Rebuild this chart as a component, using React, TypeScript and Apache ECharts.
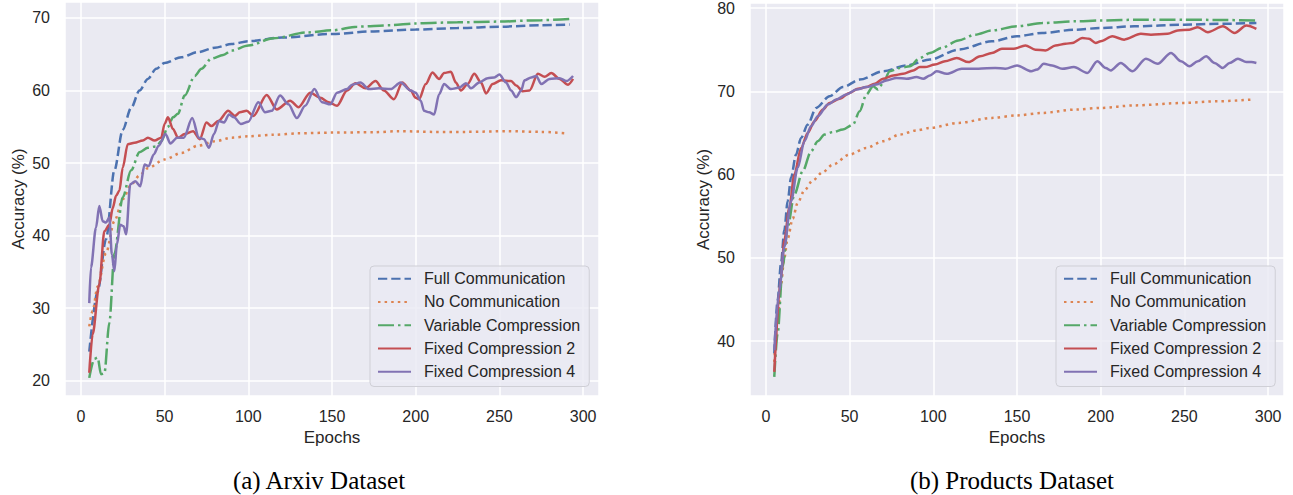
import React, { useEffect, useRef } from "react";
import * as echarts from "echarts";

// ---------- Arxiv dataset ----------
const arxivFullEpochs = [5, 10, 15, 20, 25, 30, 35, 40, 45, 50, 60, 70, 80, 90, 100, 120, 150, 175, 200, 225, 250, 275, 292];
const arxivFullAcc = [24.0, 32.3, 39.5, 49.0, 54.6, 57.6, 60.0, 61.6, 63.0, 63.8, 64.6, 65.3, 65.9, 66.4, 66.8, 67.3, 67.8, 68.15, 68.4, 68.6, 68.8, 69.0, 69.1];

const arxivNoEpochs = [5, 7, 10, 15, 20, 25, 30, 35, 40, 50, 60, 70, 80, 90, 100, 115, 130, 150, 175, 190, 210, 230, 255, 275, 290];
const arxivNoAcc = [27.5, 29.6, 33.0, 37.6, 42.0, 45.0, 47.0, 48.3, 49.3, 50.5, 51.4, 52.4, 53.0, 53.5, 53.7, 53.9, 54.1, 54.2, 54.25, 54.4, 54.3, 54.3, 54.4, 54.3, 54.1];

const arxivVarEpochs = [5, 8, 10, 12, 14, 17, 20, 25, 30, 35, 40, 45, 48, 52, 55, 58, 62, 68, 72, 78, 85, 90, 100, 115, 135, 150, 165, 185, 200, 225, 250, 275, 292];
const arxivVarAcc = [20.4, 23.0, 23.2, 20.9, 21.0, 28.0, 37.5, 45.3, 49.0, 51.5, 52.1, 52.3, 53.0, 55.0, 56.3, 56.8, 59.3, 62.0, 63.0, 64.4, 64.9, 65.5, 66.2, 67.2, 68.0, 68.3, 68.8, 69.0, 69.25, 69.4, 69.5, 69.7, 69.85];

const arxivFix2Epochs = [5, 7, 11, 14, 17, 19, 21, 23, 25, 28, 32, 37, 40, 44, 48, 50, 52, 55, 58, 62, 67, 71, 75, 78, 82, 88, 92, 95, 99, 103, 111, 117, 125, 130, 137, 143, 148, 153, 159, 164, 170, 176, 181, 187, 192, 197, 200, 202, 206, 210, 214, 217, 221, 224, 227, 231, 235, 239, 242, 246, 251, 257, 260, 264, 268, 273, 277, 281, 286, 291, 294];
const arxivFix2Acc = [21.1, 26.4, 33.3, 40.6, 41.5, 43.8, 45.5, 46.2, 49.4, 52.6, 52.8, 53.1, 53.5, 53.1, 53.5, 55.4, 56.3, 54.7, 53.5, 54.0, 54.4, 53.3, 55.6, 55.1, 55.8, 57.2, 56.5, 57.0, 57.2, 56.5, 59.4, 57.4, 58.6, 57.7, 59.7, 59.0, 58.4, 57.9, 60.0, 61.0, 60.3, 61.3, 60.0, 58.8, 61.1, 60.0, 59.0, 58.8, 60.9, 62.5, 61.6, 62.4, 62.6, 61.1, 60.0, 60.9, 62.3, 61.1, 59.6, 60.9, 61.4, 61.3, 60.7, 59.9, 60.0, 62.3, 61.9, 62.4, 61.6, 60.8, 61.6];

const arxivFix4Epochs = [5, 6, 9, 11, 13, 15, 17, 18.5, 20, 21.5, 23.5, 25.5, 27, 29.5, 32.5, 35.5, 38, 40.5, 43.5, 46.5, 50.5, 53.5, 57.5, 61.5, 66.5, 70.5, 73.5, 76.5, 79.5, 82.5, 85.5, 88.5, 91.5, 95.5, 100, 106, 110, 114, 119, 124, 129, 134, 139.5, 144, 149, 153, 159, 162, 167, 172, 178, 185, 191, 197, 200, 203, 205, 208, 211, 214, 217, 221, 226, 230, 233, 238, 243, 247, 250, 254, 257, 260, 263, 265, 269, 272, 275, 280, 286, 290, 294];
const arxivFix4Acc = [30.7, 35.6, 41.1, 44.1, 42.0, 41.8, 42.5, 37.4, 35.1, 38.8, 41.5, 41.3, 40.2, 47.1, 47.5, 46.8, 49.8, 49.6, 51.2, 52.4, 54.0, 52.7, 53.5, 53.5, 56.2, 53.5, 53.3, 52.1, 54.0, 55.8, 55.6, 56.7, 56.3, 55.4, 55.7, 58.4, 57.0, 57.2, 59.3, 58.1, 56.2, 57.9, 60.2, 58.4, 58.1, 59.7, 60.2, 60.8, 61.1, 60.2, 60.3, 60.2, 61.1, 60.0, 59.7, 58.6, 57.2, 57.0, 56.7, 59.5, 60.9, 60.2, 60.4, 61.0, 60.3, 61.1, 61.7, 61.8, 62.2, 61.1, 60.0, 59.1, 60.0, 61.4, 61.8, 62.0, 60.9, 61.6, 61.7, 61.3, 62.0];

// ---------- Products dataset ----------
const prodFullEpochs = [5, 7, 9, 11, 13, 15, 18, 21, 25, 30, 38, 46, 56, 70, 84, 98, 115, 135, 150, 165, 185, 200, 220, 250, 270, 293];
const prodFullAcc = [38.5, 44.9, 49.3, 53.3, 56.8, 59.6, 62.4, 64.4, 66.0, 68.0, 69.4, 70.5, 71.4, 72.4, 73.1, 73.8, 75.0, 76.0, 76.6, 77.0, 77.4, 77.6, 77.8, 78.0, 78.1, 78.2];

const prodNoEpochs = [5, 7, 9, 11, 13, 16, 19, 23, 28, 34, 40, 50, 60, 70, 80, 90, 98, 115, 135, 150, 165, 185, 200, 220, 250, 270, 290];
const prodNoAcc = [37.5, 42.5, 46.8, 50.0, 52.3, 54.7, 56.6, 58.1, 59.3, 60.3, 61.2, 62.4, 63.2, 64.0, 64.8, 65.3, 65.6, 66.2, 66.8, 67.1, 67.4, 67.8, 68.0, 68.3, 68.6, 68.8, 69.0];

const prodVarEpochs = [5, 7, 10, 13, 17, 22, 27, 31, 35, 40, 46, 52, 56, 60, 64, 67, 70, 74, 80, 86, 92, 98, 105, 115, 125, 135, 150, 165, 185, 200, 225, 250, 275, 293];
const prodVarAcc = [35.7, 40.9, 48.9, 53.7, 57.6, 60.4, 62.8, 64.0, 64.8, 65.1, 65.4, 66.0, 67.6, 69.6, 70.6, 70.2, 71.0, 72.4, 72.8, 73.0, 74.0, 74.6, 75.2, 76.1, 76.8, 77.3, 77.8, 78.2, 78.4, 78.5, 78.6, 78.6, 78.55, 78.5];

const prodFix2Epochs = [5, 9, 11, 14, 17, 21, 25, 29, 34, 38, 44, 50, 55, 60, 65, 70, 76, 82, 88, 92, 95, 101, 107, 114, 121, 128, 135, 141, 148, 155, 161, 167, 173, 179, 183, 189, 193, 197, 200, 207, 214, 224, 230, 240, 246, 253, 258, 264, 273, 280, 287, 293];
const prodFix2Acc = [36.3, 47.7, 52.1, 56.0, 60.0, 63.2, 65.0, 66.4, 67.8, 68.6, 69.1, 69.8, 70.3, 70.5, 70.9, 71.5, 71.9, 72.1, 72.5, 72.9, 72.9, 73.2, 73.6, 74.0, 73.5, 74.2, 74.6, 75.1, 75.1, 75.5, 75.0, 74.9, 75.5, 75.7, 75.8, 76.4, 76.3, 75.8, 76.0, 76.6, 76.2, 76.9, 76.8, 76.9, 77.3, 77.4, 77.7, 77.1, 77.8, 77.0, 77.9, 77.5];

const prodFix4Epochs = [5, 8, 11, 15, 19, 23, 27, 31, 37, 42, 48, 54, 60, 66, 72, 78, 84, 90, 94, 98, 102, 108, 117, 127, 137, 143, 150, 158.5, 162, 166, 171, 177, 184, 192, 198, 203, 206, 212, 219, 227, 234, 242, 248, 253, 258, 263, 268, 273, 277, 282, 287, 290, 293];
const prodFix4Acc = [38.9, 46.1, 51.3, 56.8, 60.8, 64.0, 65.8, 67.0, 68.4, 69.0, 69.6, 70.2, 70.5, 70.8, 71.3, 71.6, 71.5, 71.7, 71.5, 71.9, 72.4, 72.1, 72.7, 72.7, 72.8, 72.7, 73.1, 72.4, 72.6, 73.3, 73.1, 72.7, 72.9, 72.2, 73.6, 72.8, 72.5, 73.4, 72.4, 73.9, 73.3, 74.6, 73.6, 73.0, 73.6, 74.2, 73.4, 72.8, 73.4, 73.9, 73.5, 73.5, 73.4];

const seriesNames = ["Full Communication", "No Communication", "Variable Compression", "Fixed Compression 2", "Fixed Compression 4"];
const captions = ["(a) Arxiv Dataset", "(b) Products Dataset"];
const xAxisTitle = "Epochs";
const yAxisTitle = "Accuracy (%)";

const arxivData = [
  [arxivFullEpochs, arxivFullAcc],
  [arxivNoEpochs, arxivNoAcc],
  [arxivVarEpochs, arxivVarAcc],
  [arxivFix2Epochs, arxivFix2Acc],
  [arxivFix4Epochs, arxivFix4Acc],
];
const prodData = [
  [prodFullEpochs, prodFullAcc],
  [prodNoEpochs, prodNoAcc],
  [prodVarEpochs, prodVarAcc],
  [prodFix2Epochs, prodFix2Acc],
  [prodFix4Epochs, prodFix4Acc],
];

const colors = ["#4C72B0", "#DD8452", "#55A868", "#C44E52", "#8172B3"];
const dashes: any[] = [[9.25, 4], [2.5, 4.1], [16, 4, 2.5, 4], "solid", "solid"];

const SANS = "'Liberation Sans', Arial, sans-serif";
const SERIF = "'Liberation Serif', 'Times New Roman', serif";
const TXT = "#262626";

function zip(xs: number[], ys: number[]) {
  return xs.map((x, i) => [x, ys[i]]);
}

export default function App() {
  const ref = useRef<HTMLDivElement>(null);

  useEffect(() => {
    const chart = echarts.init(ref.current!, null, { renderer: "svg" });

    const makeX = (gridIndex: number) => ({
      type: "value",
      gridIndex,
      min: -9.5,
      max: 309.5,
      name: xAxisTitle,
      nameLocation: "middle",
      nameGap: 32,
      nameTextStyle: { fontFamily: SANS, fontSize: 17, color: TXT },
      axisLine: { show: false },
      axisTick: { show: false },
      axisLabel: {
        margin: 12,
        fontFamily: SANS,
        fontSize: 16,
        color: TXT,
        formatter: (v: number) => (Math.abs(v % 50) < 1e-6 ? String(v) : ""),
      },
      splitLine: { show: true, lineStyle: { color: "#ffffff", width: 1.5 } },
    });

    const makeY = (gridIndex: number, min: number, max: number) => ({
      type: "value",
      gridIndex,
      min,
      max,
      name: yAxisTitle,
      nameLocation: "middle",
      nameGap: 38,
      nameTextStyle: { fontFamily: SANS, fontSize: 17, color: TXT },
      axisLine: { show: false },
      axisTick: { show: false },
      axisLabel: {
        margin: 15,
        fontFamily: SANS,
        fontSize: 16,
        color: TXT,
        formatter: (v: number) => (Math.abs(v % 10) < 1e-6 ? String(v) : ""),
      },
      splitLine: { show: true, lineStyle: { color: "#ffffff", width: 1.5 } },
    });

    const series: any[] = [];
    [arxivData, prodData].forEach((set, g) => {
      set.forEach(([xs, ys], i) => {
        series.push({
          type: "line",
          name: seriesNames[i],
          xAxisIndex: g,
          yAxisIndex: g,
          data: zip(xs as number[], ys as number[]),
          symbol: "none",
          smooth: 0.3,
          smoothMonotone: "x",
          lineStyle: { color: colors[i], width: 2.5, type: dashes[i] },
          itemStyle: { color: colors[i] },
          z: 2 + i,
        });
      });
    });

    const makeLegend = (left: number) => ({
      orient: "vertical",
      left,
      top: 266,
      data: seriesNames,
      itemWidth: 33,
      itemHeight: 14,
      itemGap: 0,
      padding: [1, 9, 3, 7],
      backgroundColor: "rgba(234,234,242,0.8)",
      borderColor: "#cfcfd6",
      borderWidth: 1,
      borderRadius: 4,
      itemStyle: { color: "rgba(0,0,0,0)", borderColor: "rgba(0,0,0,0)", borderWidth: 0 },
      textStyle: {
        fontFamily: SANS,
        fontSize: 16,
        color: TXT,
        lineHeight: 23.3,
        padding: [0, 0, 0, 8],
      },
    });

    const option: any = {
      animation: false,
      backgroundColor: "#ffffff",
      grid: [
        { left: 65, top: 2, width: 534, height: 394, show: true, backgroundColor: "#EAEAF2", borderWidth: 0 },
        { left: 750, top: 2, width: 534, height: 394, show: true, backgroundColor: "#EAEAF2", borderWidth: 0 },
      ],
      xAxis: [makeX(0), makeX(1)],
      yAxis: [makeY(0, 17.9, 72.2), makeY(1, 33.4, 80.6)],
      legend: [makeLegend(370), makeLegend(1056)],
      series,
      graphic: [
        {
          type: "text",
          x: 319,
          y: 480,
          style: { text: captions[0], font: `25px ${SERIF}`, fill: "#000", align: "center", verticalAlign: "middle" },
        },
        {
          type: "text",
          x: 1012,
          y: 480,
          style: { text: captions[1], font: `25px ${SERIF}`, fill: "#000", align: "center", verticalAlign: "middle" },
        },
      ],
    };

    chart.setOption(option);
    return () => chart.dispose();
  }, []);

  return (
    <div
      ref={ref}
      style={{ position: "fixed", left: 0, top: 0, width: 1293, height: 495, background: "#fff" }}
    />
  );
}
